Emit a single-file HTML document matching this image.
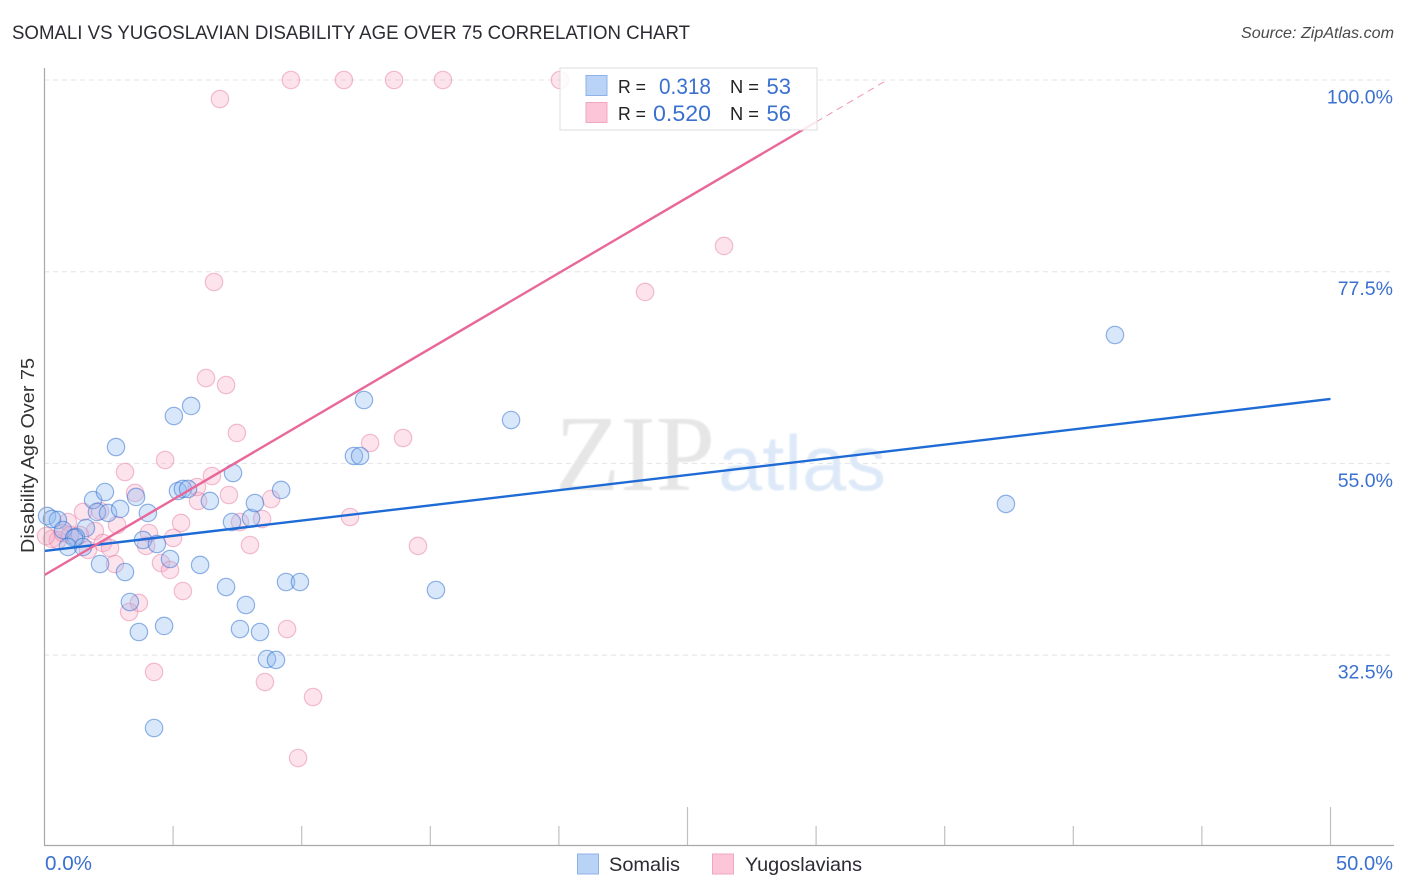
<!DOCTYPE html>
<html>
<head>
<meta charset="utf-8">
<style>
html,body{margin:0;padding:0;background:#fff;width:1406px;height:892px;overflow:hidden}
svg{display:block;font-family:"Liberation Sans",sans-serif}
</style>
</head>
<body>
<svg id="chart" width="1406" height="892" viewBox="0 0 1406 892" xmlns="http://www.w3.org/2000/svg">
<defs><filter id="soft" x="-5%" y="-5%" width="110%" height="110%"><feGaussianBlur stdDeviation="0.7"/></filter></defs>
<text x="12" y="39" font-size="19" fill="#2b2b33" textLength="678" lengthAdjust="spacingAndGlyphs">SOMALI VS YUGOSLAVIAN DISABILITY AGE OVER 75 CORRELATION CHART</text>
<text x="1394" y="38" font-size="16" font-style="italic" fill="#4a4a4a" text-anchor="end" textLength="153" lengthAdjust="spacingAndGlyphs">Source: ZipAtlas.com</text>
<g id="grid"></g>
<g filter="url(#soft)">
<text x="555" y="490" font-size="108" fill="#e6e6e6" font-family="'Liberation Serif',serif" textLength="160" lengthAdjust="spacingAndGlyphs">ZIP</text>
<text x="718" y="490" font-size="78" fill="#dde9f8" textLength="168" lengthAdjust="spacingAndGlyphs">atlas</text>
</g>
<g id="points"></g>
<g id="lines"></g>
<g id="axes"></g>
<text transform="translate(34,553) rotate(-90)" font-size="18" fill="#333" textLength="195" lengthAdjust="spacingAndGlyphs">Disability Age Over 75</text>
<g>
<rect x="560" y="68" width="257" height="62" fill="#fff" fill-opacity="0.85" stroke="#dcdcdc" stroke-width="1"/>
<rect x="586" y="75.5" width="21" height="20" fill="#b9d3f7" stroke="#8db2e8"/>
<rect x="586" y="102.5" width="21" height="20" fill="#fcc5d8" stroke="#f0a8c0"/>
<text x="618" y="93" font-size="18.5" fill="#222" textLength="28" lengthAdjust="spacingAndGlyphs">R =</text>
<text x="659" y="94" font-size="22" fill="#3a70d0" textLength="52" lengthAdjust="spacingAndGlyphs">0.318</text>
<text x="730" y="93" font-size="18.5" fill="#222" textLength="29" lengthAdjust="spacingAndGlyphs">N =</text>
<text x="791" y="94" font-size="22" fill="#3a70d0" text-anchor="end">53</text>
<text x="618" y="120" font-size="18.5" fill="#222" textLength="28" lengthAdjust="spacingAndGlyphs">R =</text>
<text x="653" y="121" font-size="22" fill="#3a70d0" textLength="58" lengthAdjust="spacingAndGlyphs">0.520</text>
<text x="730" y="120" font-size="18.5" fill="#222" textLength="29" lengthAdjust="spacingAndGlyphs">N =</text>
<text x="791" y="121" font-size="22" fill="#3a70d0" text-anchor="end">56</text>
</g>
<g>
<rect x="577.5" y="854" width="21" height="20" fill="#b9d3f7" stroke="#8db2e8"/>
<text x="609" y="871" font-size="19.5" fill="#2b2b33" textLength="71" lengthAdjust="spacingAndGlyphs">Somalis</text>
<rect x="712.5" y="854" width="21" height="20" fill="#fcc5d8" stroke="#f0a8c0"/>
<text x="745" y="871" font-size="19.5" fill="#2b2b33" textLength="117" lengthAdjust="spacingAndGlyphs">Yugoslavians</text>
</g>
</svg>
<script>
const yTickValues = [100, 77.5, 55, 32.5];
const yTickLabels = ["100.0%", "77.5%", "55.0%", "32.5%"];
const xTickValues = [0, 5, 10, 15, 20, 25, 30, 35, 40, 45, 50];
const xEndLabels = ["0.0%", "50.0%"];
const somaliX = [2.78,0.10,0.52,0.29,1.89,2.35,2.04,2.47,2.94,3.56,4.02,1.61,0.72,1.22,1.15,0.91,1.50,2.16,3.13,3.83,4.37,4.88,6.05,5.19,5.38,5.58,6.43,7.33,7.29,8.03,8.18,9.20,7.06,7.83,9.39,9.93,7.60,8.38,8.65,9.00,3.32,3.67,4.65,4.26,5.03,5.70,12.42,12.03,12.27,15.22,18.14,37.38,41.62];
const somaliY = [56.92,48.83,48.36,48.47,50.70,51.64,49.30,49.18,49.65,51.06,49.18,47.42,47.18,46.36,46.25,45.19,45.19,43.19,42.25,46.01,45.54,43.78,43.08,51.76,52.00,52.00,50.59,53.87,48.12,48.59,50.35,51.88,40.49,38.38,41.08,41.08,35.56,35.21,32.04,31.93,38.73,35.21,35.92,23.94,60.56,61.74,62.44,55.87,55.87,40.14,60.09,50.24,70.07];
const yugoslavianX = [4.69,3.13,3.52,1.50,2.16,0.91,2.82,1.96,0.29,0.52,0.72,0.99,1.38,2.27,2.55,1.69,2.74,4.06,3.95,5.00,5.31,4.53,4.88,5.38,3.67,3.29,4.26,5.97,5.93,6.51,7.17,7.60,8.46,8.81,7.99,9.43,8.57,10.44,6.82,9.58,11.64,13.59,15.49,20.04,6.59,6.28,7.06,7.48,9.86,11.88,12.66,13.94,14.52,23.35,26.42,0.06];
const yugoslavianY = [55.40,53.99,51.53,49.30,49.41,48.12,47.77,47.07,46.13,46.01,46.83,46.60,46.60,45.66,45.07,44.84,43.19,46.83,45.31,46.25,48.01,43.31,42.49,40.02,38.62,37.56,30.52,50.59,52.23,53.52,51.29,48.12,48.47,50.82,45.42,35.56,29.34,27.58,97.77,100,100,100,100,100,76.29,65.02,64.20,58.57,20.42,48.71,57.39,57.98,45.31,75.12,80.52,46.48];
const somaliTrendX = [0, 50];
const somaliTrendY = [44.72, 62.56];
const yugoslavianTrendX = [0, 30];
const yugoslavianTrendY = [41.90, 95.07];
const yugoslavianDashX = [30, 32.76];
const yugoslavianDashY = [95.07, 100];

const NS = 'http://www.w3.org/2000/svg';
function sx(v){ return 44.5 + v * 25.72; }
function sy(v){ return 80 + (100 - v) * 8.52; }
function make(tag, attrs, parent){
  const el = document.createElementNS(NS, tag);
  for (const k in attrs) el.setAttribute(k, attrs[k]);
  parent.appendChild(el);
  return el;
}
const grid = document.getElementById('grid');
const axes = document.getElementById('axes');
const points = document.getElementById('points');
const lines = document.getElementById('lines');

yTickValues.forEach(function(v, i){
  const g = make('line', {x1:44, x2:1394, y1:sy(v), y2:sy(v), stroke:'#e4e4e4', 'stroke-width':1, 'stroke-dasharray':'5 4'}, grid);
  
  
  const t = make('text', {x:1393, y:sy(v) + 23.5, 'font-size':19.5, fill:'#3a70d0', 'text-anchor':'end'}, axes);
  t.textContent = yTickLabels[i];
  
  
});

const yAxis = make('line', {x1:44.5, x2:44.5, y1:68, y2:845.5, stroke:'#a8a8a8', 'stroke-width':1.2}, axes);


const xAxis = make('line', {x1:44, x2:1394, y1:845.5, y2:845.5, stroke:'#a8a8a8', 'stroke-width':1.2}, axes);



xTickValues.forEach(function(v){
  if (v === 0) return;
  const top = (v === 25 || v === 50) ? 807 : 826;
  const tk = make('line', {x1:sx(v), x2:sx(v), y1:top, y2:845, stroke:'#c0c0c0', 'stroke-width':1.2}, axes);
  
  
});

const xl0 = make('text', {x:45, y:870, 'font-size':20, fill:'#3a70d0', textLength:47, lengthAdjust:'spacingAndGlyphs'}, axes);
xl0.textContent = xEndLabels[0];


const xl1 = make('text', {x:1336, y:870, 'font-size':20, fill:'#3a70d0', textLength:57, lengthAdjust:'spacingAndGlyphs'}, axes);
xl1.textContent = xEndLabels[1];



yugoslavianX.forEach(function(x, i){
  const c = make('circle', {cx:sx(x), cy:sy(yugoslavianY[i]), r:8.7, fill:'#f7a8c4', 'fill-opacity':0.32, stroke:'#e87fa6', 'stroke-opacity':0.5, 'stroke-width':1.2}, points);
  
  
});
somaliX.forEach(function(x, i){
  const c = make('circle', {cx:sx(x), cy:sy(somaliY[i]), r:8.7, fill:'#8fb8ef', 'fill-opacity':0.34, stroke:'#2f6fd0', 'stroke-opacity':0.52, 'stroke-width':1.2}, points);
  
  
});

const blueLine = make('line', {x1:sx(somaliTrendX[0]), y1:sy(somaliTrendY[0]), x2:sx(somaliTrendX[1]), y2:sy(somaliTrendY[1]), stroke:'#1f6bd6', 'stroke-width':2.4}, lines);


const pinkLine = make('line', {x1:sx(yugoslavianTrendX[0]), y1:sy(yugoslavianTrendY[0]), x2:sx(yugoslavianTrendX[1]), y2:sy(yugoslavianTrendY[1]), stroke:'#e8689a', 'stroke-width':2.4}, lines);


const pinkDash = make('line', {x1:sx(yugoslavianDashX[0]), y1:sy(yugoslavianDashY[0]), x2:sx(yugoslavianDashX[1]), y2:sy(yugoslavianDashY[1]), stroke:'#e8689a', 'stroke-width':1, 'stroke-dasharray':'7 5', 'stroke-opacity':0.7}, lines);


</script>
</body>
</html>
